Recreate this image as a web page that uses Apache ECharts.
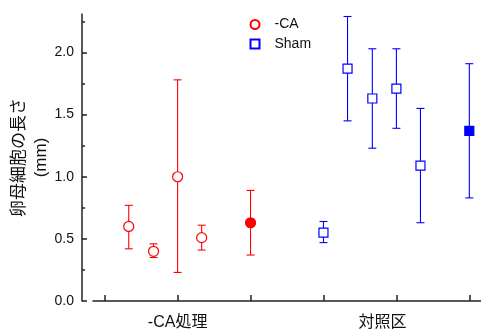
<!DOCTYPE html>
<html><head><meta charset="utf-8">
<script src="https://cdn.jsdelivr.net/npm/echarts@6/dist/echarts.min.js"></script>
<style>html,body{margin:0;padding:0;background:#fff}#c{width:481px;height:333px}</style>
</head><body><div id="c"></div>
<script>
// ---- data ----
const groupLabels = ['-CA処理', '対照区'];
const groupLabelPos = [1, 3.81];
const yTicks = [0, 0.5, 1.0, 1.5, 2.0];
const yMinorTicks = [0.25, 0.75, 1.25, 1.75, 2.25];
const xTicks = [0, 1, 2, 3, 4, 5];

const caX      = [0.33, 0.67, 1.00, 1.33, 2.00];
const caMean   = [0.60, 0.40, 1.00, 0.51, 0.63];
const caUpper  = [0.77, 0.46, 1.78, 0.61, 0.89];
const caLower  = [0.42, 0.35, 0.23, 0.41, 0.37];
const caFilled = [false, false, false, false, true];

const shamX      = [3.00, 3.33, 3.67, 4.00, 4.33, 5.00];
const shamMean   = [0.55, 1.87, 1.63, 1.71, 1.09, 1.37];
const shamUpper  = [0.64, 2.29, 2.03, 2.03, 1.55, 1.91];
const shamLower  = [0.47, 1.45, 1.23, 1.39, 0.63, 0.83];
const shamFilled = [false, false, false, false, false, true];

const FONT = "'Liberation Sans', Arial, 'Noto Sans CJK JP', sans-serif";
const RED = '#ff0000', BLUE = '#0000ff', AX = '#222';

function errSeries(name, xs, lo, hi, color) {
  return {
    type: 'custom', name: name, z: 2, silent: true, clip: false,
    data: xs.map((x, i) => [x, lo[i], hi[i]]),
    renderItem: function (params, api) {
      const x = api.value(0);
      const t = api.coord([x, api.value(2)]);
      const b = api.coord([x, api.value(1)]);
      const w = 4;
      const style = { stroke: color, lineWidth: 1.1 };
      return { type: 'group', children: [
        { type: 'line', shape: { x1: t[0], y1: t[1], x2: b[0], y2: b[1] }, style: style },
        { type: 'line', shape: { x1: t[0] - w, y1: t[1], x2: t[0] + w, y2: t[1] }, style: style },
        { type: 'line', shape: { x1: b[0] - w, y1: b[1], x2: b[0] + w, y2: b[1] }, style: style }
      ]};
    }
  };
}
function ptSeries(name, xs, ys, filled, color, symbol, size) {
  return {
    type: 'scatter', name: name, z: 3, symbol: symbol, symbolSize: size,
    itemStyle: { color: '#fff', borderColor: color, borderWidth: 1.2, opacity: 1 },
    data: xs.map((x, i) => filled[i]
      ? { value: [x, ys[i]], itemStyle: { color: color } }
      : { value: [x, ys[i]] })
  };
}

const chart = echarts.init(document.getElementById('c'));
chart.setOption({
  animation: false,
  backgroundColor: '#fff',
  textStyle: { fontFamily: FONT },
  grid: { left: 93, right: 0, top: 14, bottom: 32, containLabel: false, outerBoundsMode: 'none' },
  legend: {
    data: ['-CA', 'Sham'], orient: 'vertical', left: 249.5, top: 17.5,
    padding: 0, itemWidth: 9, itemHeight: 9, itemGap: 5.4,
    textStyle: { fontSize: 14, color: '#111', fontFamily: FONT, lineHeight: 14, padding: [0, 0, 0, 10] }
  },
  xAxis: {
    type: 'value', min: -0.16, max: 5.16,
    axisLine: { show: true, onZero: false, lineStyle: { color: AX, width: 1.5 } },
    axisTick: { show: true, inside: true, length: 6, customValues: xTicks, lineStyle: { color: AX, width: 1.5 } },
    axisLabel: {
      customValues: groupLabelPos, margin: 14, fontSize: 16, color: '#111', fontFamily: FONT,
      formatter: function (v) {
        let best = 0;
        groupLabelPos.forEach((p, i) => { if (Math.abs(p - v) < Math.abs(groupLabelPos[best] - v)) best = i; });
        return groupLabels[best];
      }
    },
    splitLine: { show: false }
  },
  yAxis: [{
    type: 'value', min: 0, max: 2.31, offset: 11, position: 'left',
    name: '卵母細胞の長さ\n(mm)', nameLocation: 'middle', nameRotate: 90, nameGap: 30,
    nameMoveOverlap: false,
    nameTextStyle: { fontSize: 17, lineHeight: 22, color: '#111', fontFamily: FONT },
    axisLine: { show: true, onZero: false, lineStyle: { color: AX, width: 1.5 } },
    axisTick: { show: true, inside: true, length: 5, customValues: yTicks, lineStyle: { color: AX, width: 1.5 } },
    axisLabel: { customValues: yTicks, margin: 8, fontSize: 14, color: '#111', fontFamily: FONT,
      formatter: v => v.toFixed(1) },
    splitLine: { show: false }
  }, {
    type: 'value', min: 0, max: 2.31, offset: 11, position: 'left',
    axisLine: { show: false, onZero: false },
    axisTick: { show: true, inside: true, length: 3, customValues: yMinorTicks, lineStyle: { color: AX, width: 1.5 } },
    axisLabel: { show: false },
    splitLine: { show: false }
  }],
  series: [
    errSeries('caErr', caX, caLower, caUpper, RED),
    errSeries('shamErr', shamX, shamLower, shamUpper, BLUE),
    ptSeries('-CA', caX, caMean, caFilled, RED, 'circle', 10),
    ptSeries('Sham', shamX, shamMean, shamFilled, BLUE, 'rect', 9)
  ]
});
</script></body></html>
